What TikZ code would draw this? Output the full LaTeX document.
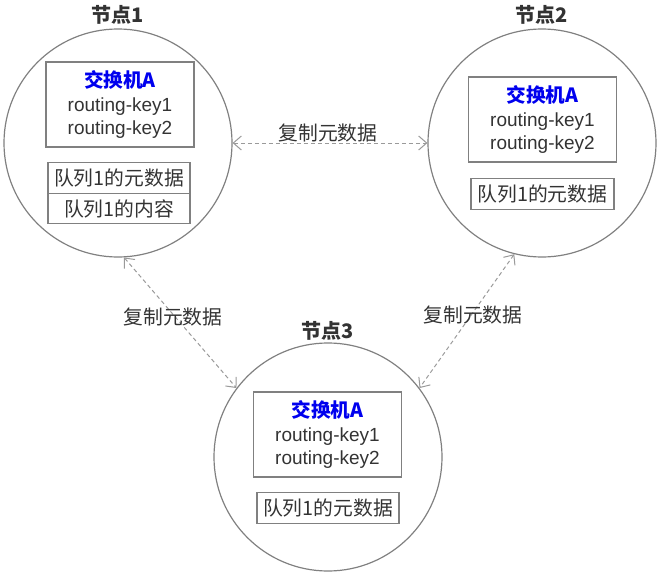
\documentclass[tikz,border=0pt]{standalone}
\usepackage{fontspec}
\setmainfont{Liberation Sans}
\newfontfamily\cjk{Noto Sans CJK SC}
\usetikzlibrary{arrows.meta}
\definecolor{txt}{HTML}{333333}
\definecolor{edge}{HTML}{808080}
\definecolor{arr}{HTML}{9A9A9A}
\definecolor{xblue}{HTML}{0000EE}
\begin{document}
\begin{tikzpicture}[x=1pt,y=-1pt,
  every node/.style={text=txt, font=\fontsize{19}{23.5}\selectfont},
  server/.style={circle, draw=edge, line width=1.2pt, minimum size=228pt, inner sep=0pt},
  title/.style={font=\fontsize{20}{24}\selectfont\cjk\bfseries},
  xbox/.style={draw=edge, line width=1.3pt, minimum width=148pt, minimum height=85pt, align=center, inner sep=0pt},
  qbox/.style={draw=edge, line width=1.3pt, minimum width=142pt, minimum height=30.5pt, inner sep=0pt, font=\fontsize{19.8}{23}\selectfont\cjk},
  repl/.style={draw=arr, line width=1pt, dash pattern=on 4pt off 3pt, {Straight Barb[length=8pt,width=14pt]}-{Straight Barb[length=8pt,width=14pt]}},
  lbl/.style={font=\fontsize{19.8}{23}\selectfont\cjk}
]
\useasboundingbox (0,0) rectangle (662,578);

% nodes (circles)
\node[server] (n1) at (118,143) {};
\node[server] (n2) at (542,143) {};
\node[server] (n3) at (328,457) {};

% titles
\node[title] (t1) at (118,15) {节点1};
\node[title] (t2) at (542,15) {节点2};
\node[title] (t3) at (328,331) {节点3};

% exchange boxes
\node[xbox] (x1) at (120,104.5) {{\fontsize{19.6}{23.5}\selectfont\cjk\bfseries\color{xblue}交换机A}\\routing-key1\\routing-key2};
\node[xbox] (x2) at (542.5,119.5) {{\fontsize{19.6}{23.5}\selectfont\cjk\bfseries\color{xblue}交换机A}\\routing-key1\\routing-key2};
\node[xbox] (x3) at (327.5,434.5) {{\fontsize{19.6}{23.5}\selectfont\cjk\bfseries\color{xblue}交换机A}\\routing-key1\\routing-key2};

% queue boxes
\node[qbox] (q1m) at (119,178) {队列1的元数据};
\node[qbox] (q1c) at (119,208.5) {队列1的内容};
\node[qbox, minimum width=143pt] (q2m) at (542.5,194) {队列1的元数据};
\node[qbox] (q3m) at (328,508) {队列1的元数据};

% replication connectors
\draw[repl] (n1.-0.5) -- (n2.180.5);
\draw[repl] (n1.-87) -- (n3.143.6);
\draw[repl] (n2.-104.6) -- (n3.37);

% labels
\node[lbl] (l12) at (328,133) {复制元数据};
\node[lbl] (l13) at (173,317) {复制元数据};
\node[lbl] (l23) at (473,315) {复制元数据};
\end{tikzpicture}
\end{document}
